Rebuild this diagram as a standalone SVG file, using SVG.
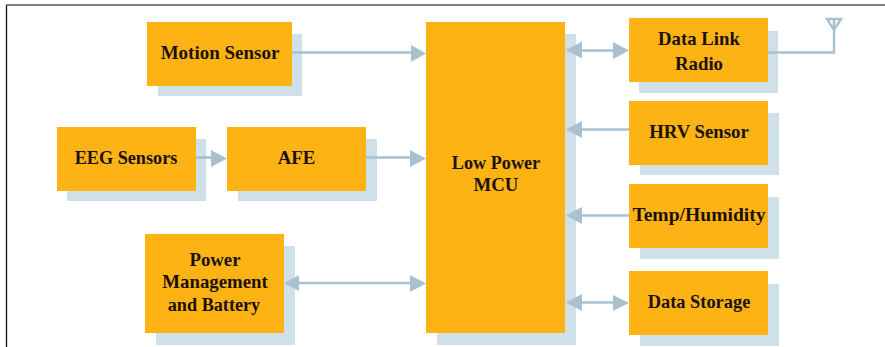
<svg xmlns="http://www.w3.org/2000/svg" width="885" height="347" viewBox="0 0 885 347">
<style>
.b{fill:#feb314}.s{fill:#d0e0e8}
.c{fill:none;stroke:#a9c0ce;stroke-width:2.6}
.h{fill:#a9c0ce}
.a{fill:none;stroke:#a9c0ce;stroke-width:2.4}
text{font-family:"Liberation Serif","Times New Roman",serif;font-weight:bold;font-size:18.800px;fill:#1a1208;text-anchor:middle}
</style>
<rect width="885" height="347" fill="#fff"/>
<path d="M6.500 347V5" fill="none" stroke="#111" stroke-width="1.300"/>
<path d="M6 5H885" fill="none" stroke="#555" stroke-width="1.300"/>
<g id="motion-sensor"><rect class="s" x="158" y="34" width="144" height="62"/><rect class="b" x="147" y="22" width="145" height="64"/><text x="220" y="59" font-size="19" style="font-size:19px">Motion Sensor</text></g>
<g id="eeg-sensors"><rect class="s" x="67" y="139" width="139" height="62"/><rect class="b" x="57" y="127" width="139" height="64"/><text x="126" y="164" style="font-size:18.200px">EEG Sensors</text></g>
<g id="afe"><rect class="s" x="238" y="139" width="139" height="62"/><rect class="b" x="227" y="127" width="139" height="64"/><text x="296.500" y="164">AFE</text></g>
<g id="power"><rect class="s" x="156" y="246" width="139" height="99"/><rect class="b" x="145" y="234" width="139" height="99"/><text x="215" y="266">Power</text><text x="215" y="288">Management</text><text x="214" y="311" style="font-size:18.200px">and Battery</text></g>
<g id="mcu"><rect class="s" x="437" y="34" width="139" height="311"/><rect class="b" x="426" y="22" width="139" height="311"/><text x="496" y="169" style="font-size:18.200px">Low Power</text><text x="496" y="191">MCU</text></g>
<g id="radio"><rect class="s" x="639" y="31" width="139" height="62"/><rect class="b" x="629" y="18" width="139" height="64"/><text x="699" y="45">Data Link</text><text x="699" y="70">Radio</text></g>
<g id="hrv"><rect class="s" x="640" y="113" width="139" height="62"/><rect class="b" x="629" y="101" width="139" height="64"/><text x="699" y="138">HRV Sensor</text></g>
<g id="temp"><rect class="s" x="640" y="197" width="139" height="62"/><rect class="b" x="629" y="184" width="139" height="64"/><text x="699" y="221" style="font-size:19.600px">Temp/Humidity</text></g>
<g id="storage"><rect class="s" x="640" y="284" width="139" height="62"/><rect class="b" x="629" y="271" width="139" height="64"/><text x="699" y="308" style="font-size:18.400px">Data Storage</text></g>
<g id="connectors">
<path class="c" d="M292 52.500H415"/><path class="h" d="M426 53.500L411 45V62Z"/>
<path class="c" d="M196 157.500H212"/><path class="h" d="M227 158.500L211 150V167Z"/>
<path class="c" d="M366 157.500H412"/><path class="h" d="M426 158.500L410 150V167Z"/>
<path class="c" d="M296 283H412"/><path class="h" d="M284 283L299 275V291Z"/><path class="h" d="M426 283.500L410 275V292Z"/>
<path class="c" d="M580 50.500H616"/><path class="h" d="M566 50L582 41.500V58.500Z"/><path class="h" d="M629 50.500L613 42V59Z"/>
<path class="c" d="M580 129.500H629"/><path class="h" d="M566 129.500L582 121V138Z"/>
<path class="c" d="M580 215.500H629"/><path class="h" d="M566 215.500L582 207V224Z"/>
<path class="c" d="M580 302.500H616"/><path class="h" d="M566 302.500L582 294V311Z"/><path class="h" d="M629 303L613 295V311Z"/>
<path class="a" d="M768 52.500H834V28"/>
<path class="a" d="M827 19H841L834 30ZM834 19V30"/>
</g>
</svg>
